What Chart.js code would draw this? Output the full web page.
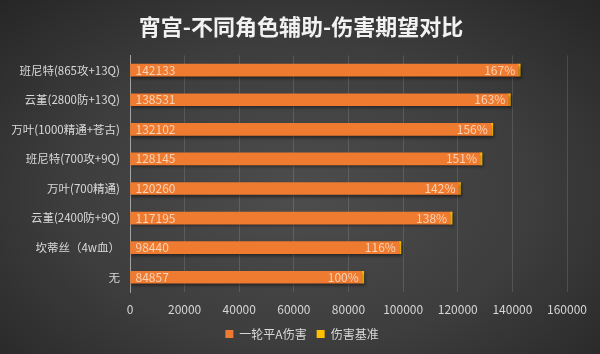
<!DOCTYPE html>
<html>
<head>
<meta charset="utf-8">
<script src="https://cdn.jsdelivr.net/npm/chart.js@4/dist/chart.umd.min.js"></script>
<style>
  html, body { margin: 0; padding: 0; }
  body {
    width: 600px; height: 354px; overflow: hidden;
    background: radial-gradient(ellipse at 50% 55%, #4d4d4d 0%, #3d3d3d 55%, #262626 100%);
  }
  #wrap { width: 600px; height: 354px; position: relative; }
</style>
</head>
<body>
<div id="wrap"><canvas id="dmgChart"></canvas></div>
<script>
const roles = ['班尼特(865攻+13Q)', '云堇(2800防+13Q)', '万叶(1000精通+苍古)', '班尼特(700攻+9Q)',
               '万叶(700精通)', '云堇(2400防+9Q)', '坎蒂丝（4w血）', '无'];
const damage = [142133, 138531, 132102, 128145, 120260, 117195, 98440, 84857];
const ratio = [167, 163, 156, 151, 142, 138, 116, 100];
const xTicks = [0, 20000, 40000, 60000, 80000, 100000, 120000, 140000, 160000];

const fontFamily = '"Noto Sans CJK SC", "Noto Sans", sans-serif';

// value at the bar start, percentage at the bar end
const barLabels = {
    id: 'barLabels',
    afterDatasetsDraw(chart) {
        const ctx = chart.ctx;
        const bars = chart.getDatasetMeta(0).data;
        ctx.save();
        ctx.font = '12px ' + fontFamily;
        ctx.fillStyle = '#f9d3b8';
        ctx.textBaseline = 'middle';
        bars.forEach((bar, i) => {
            ctx.textAlign = 'left';
            ctx.fillText(damage[i], bar.base + 5, bar.y);
            ctx.textAlign = 'right';
            ctx.fillText(ratio[i] + '%', bar.x - 3, bar.y);
        });
        ctx.restore();
    }
};

const barShadow = {
    id: 'barShadow',
    beforeDatasetsDraw(chart) {
        const ctx = chart.ctx;
        ctx.save();
        ctx.shadowColor = 'rgba(0,0,0,0.45)';
        ctx.shadowBlur = 3;
        ctx.shadowOffsetX = 1;
        ctx.shadowOffsetY = 2;
    },
    afterDatasetsDraw(chart) {
        chart.ctx.restore();
    }
};

// centre title and legend on the whole canvas, not on the padded box
const centreBlocks = {
    id: 'centreBlocks',
    afterLayout(chart) {
        [[chart.titleBlock, 301], [chart.legend, 302]].forEach(([box, target]) => {
            if (!box) return;
            const dx = target - (box.left + box.right) / 2;
            box.left += dx;
            box.right += dx;
        });
    }
};

const ctx = document.getElementById('dmgChart').getContext('2d');

new Chart(ctx, {
    type: 'bar',
    data: {
        labels: roles,
        datasets: [
            {
                label: '一轮平A伤害',
                data: damage,
                backgroundColor: '#ee7b30',
                barThickness: 12
            },
            {
                label: '伤害基准',
                data: ratio,
                backgroundColor: '#ffc000',
                barThickness: 12,
                minBarLength: 2
            }
        ]
    },
    options: {
        indexAxis: 'y',
        responsive: true,
        maintainAspectRatio: false,
        animation: false,
        layout: { padding: { left: 0, right: 33, top: 0, bottom: 4 } },
        scales: {
            x: {
                stacked: true,
                min: 0,
                max: 160000,
                afterBuildTicks: scale => { scale.ticks = xTicks.map(v => ({ value: v })); },
                grid: { color: 'rgba(255,255,255,0.13)', drawTicks: false },
                border: { display: false },
                ticks: {
                    color: '#d6d6d6',
                    font: { size: 12, family: fontFamily },
                    padding: 10,
                    maxRotation: 0,
                    callback: v => String(v)
                },
                afterFit: scale => { scale.height = 26; }
            },
            y: {
                stacked: true,
                grid: { display: false, drawTicks: false },
                border: { display: true, color: 'rgba(255,255,255,0.45)' },
                ticks: {
                    color: '#d9d9d9',
                    font: { size: 11.5, family: fontFamily },
                    padding: 10
                },
                afterFit: scale => { scale.width = 130; }
            }
        },
        plugins: {
            title: {
                display: true,
                text: '宵宫-不同角色辅助-伤害期望对比',
                color: '#f2f2f2',
                font: { size: 22, weight: 'bold', family: fontFamily },
                padding: { top: 13, bottom: 16 }
            },
            legend: {
                position: 'bottom',
                labels: {
                    color: '#d9d9d9',
                    font: { size: 12, family: fontFamily },
                    boxWidth: 8,
                    boxHeight: 8,
                    padding: 10
                }
            },
            tooltip: { enabled: false }
        }
    },
    plugins: [barShadow, barLabels, centreBlocks]
});
</script>
</body>
</html>
